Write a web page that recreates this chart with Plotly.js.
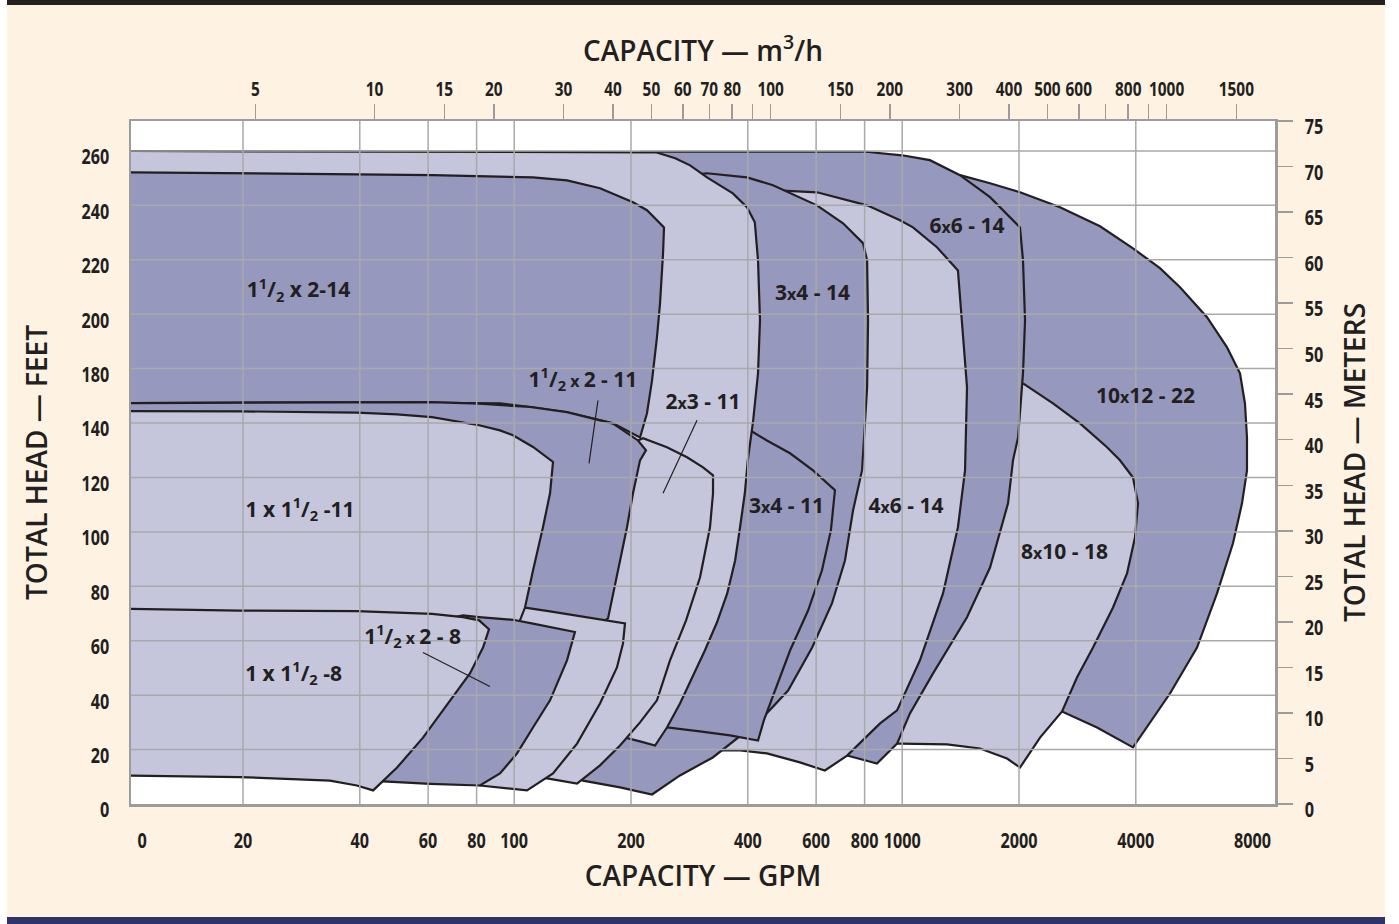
<!DOCTYPE html>
<html>
<head>
<meta charset="utf-8">
<script src="https://cdn.plot.ly/plotly-3.0.1.min.js"></script>
<style>
  html, body { margin:0; padding:0; background:#ffffff; width:1399px; height:924px; overflow:hidden; }
  #card { position:absolute; left:7px; top:0; width:1378px; height:924px; background:#FEF2E2; }
  #chart { position:absolute; left:0; top:0; width:1378px; height:924px; }
  #topbar { position:absolute; left:0; top:0; width:1378px; height:5px; background:#231F20; z-index:5; }
  #botbar { position:absolute; left:0; top:917px; width:1378px; height:7px; background:#2E3468; z-index:5; }
</style>
</head>
<body>
<div id="card"><div id="chart"></div><div id="topbar"></div><div id="botbar"></div></div>
<script>
// ---------- axis ticks ----------
const bottomTickGPM  = [11, 20, 40, 60, 80, 100, 200, 400, 600, 800, 1000, 2000, 4000, 8000];
const bottomTickText = ['0','20','40','60','80','100','200','400','600','800','1000','2000','4000','8000'];
const gridGPM        = [20, 40, 60, 80, 100, 200, 400, 600, 800, 1000, 2000, 4000];
const topTickM3h     = [5,10,15,20,30,40,50,60,70,80,100,150,200,300,400,500,600,800,1000,1500];
const topMinorM3h    = [90,700,900];
const headTickFt     = [0,20,40,60,80,100,120,140,160,180,200,220,240];
const headTickText   = ['0','20','40','60','80','100','120','140','180','200','220','240','260'];
const meterTicks     = [0,5,10,15,20,25,30,35,40,45,50,55,60,65,70,75];

// ---------- pump coverage regions (GPM, feet), back to front ----------
const p10x12_22_gpm = [1409,1684,2012,2551,3235,3934,4617,5200,6104,6875,7423,7646,7738,7738,7513,7121,6477,5752,4899,4275,3934,3178,2582,1787,877,877];
const p10x12_22_ft  = [231.1,228.1,224.8,219.3,212.3,204.2,196.9,189.9,178.9,167.8,158.3,147.2,134.7,122.6,110.5,95.8,77.4,57.5,40.6,28.1,20.8,28.1,34.0,36.5,36.5,232.2];

const p8x10_18_gpm = [2048,2447,2872,3372,3641,3934,4053,3981,3797,3494,3103,2821,2582,2266,2012,1863,1587,1305,987,930,930,1787];
const p8x10_18_ft  = [154.6,147.2,139.9,131.1,126.3,120.0,110.5,98.0,84.7,72.2,57.5,46.5,34.0,24.4,13.4,16.7,20.4,21.9,22.2,22.2,155.7,158.6];

const p6x6_14_gpm = [211,807,999,1179,1409,1684,2012,2048,2073,2048,1989,1930,1874,1684,1469,1201,1047,970,861,721,545,301];
const p6x6_14_ft  = [239.7,239.7,238.4,236.6,231.1,223.0,211.9,199.8,177.8,158.3,134.7,126.3,110.5,86.9,68.6,48.0,33.3,22.2,14.9,17.8,21.5,185.1];

const p4x6_14_gpm = [464.5,603,812,987,1066,1229,1392,1426,1469,1452,1392,1274,1111,970,877,721,632,545,448,382,325,284,339,360];
const p4x6_14_ft  = [225.6,224.8,220.0,214.5,211.9,204.6,196.1,177.8,153.1,122.6,101.7,77.4,52.8,34.4,29.6,17.8,12.3,15.3,18.6,19.7,19.7,21.5,185.1,221.9];

const p3x4_14_gpm = [284,314,398,464.5,603,704,792.5,812,816.5,812,788,747,712,659,586,508,430,366,325,267.5,226.6,187.4,150.4,131.2,301];
const p3x4_14_ft  = [231.1,231.8,230.3,227.4,220.0,213.4,206.1,199.8,177.8,153.1,122.6,107.9,89.5,73.7,57.5,41.7,30.7,23.0,17.1,10.5,3.5,6.1,8.6,16.0,185.1];

const p3x4_11_gpm = [382,410,448,514,589,671,655,621,572,514,470,440,425,360,301,224,301];
const p3x4_11_ft  = [139.2,136.9,133.6,128.9,122.6,115.3,100.6,85.8,71.1,56.4,41.7,30.7,23.3,25.2,26.7,28.9,130.0];

const p2x3_14_gpm = [9,232,260,284,314,366,398,417,425,430,425,413,400,393,382,371,354,333,310,287,267.5,247.6,230.7,211,193,166.4,131.2,9];
const p2x3_14_ft  = [240,239.5,237.3,234.7,230.3,224.4,219.3,213.8,199.8,177.8,158.3,141.0,126.3,114.2,101.7,89.5,77.4,66.7,56.4,46.5,36.9,28.1,21.5,23.0,24.4,38.1,74.8,74.8];

const p2x3_11_gpm = [187.4,208.5,214.8,247.6,278.9,306.7,325.4,325.4,319.6,301.3,277.3,252.1,233.3,211,187.4,166.4,145.2,131.2,118.6,103.5,131.2];
const p2x3_11_ft  = [131.8,133.6,134.4,131.1,127.4,123.7,120.8,114.2,101.7,83.3,67.5,52.8,38.1,30.0,21.5,14.2,7.5,8.6,9.7,16.0,111.6];

const p1h2_14_gpm = [9,19.65,39.3,61.4,81.2,99.3,111.8,136.8,166.4,202.4,219.9,243.3,241.9,237.6,233.3,226.6,219.9,211,179.8,136.8,111.8,91.9,39.3,9];
const p1h2_14_ft  = [232.2,231.9,231.4,231.1,230.8,230.7,230.3,229.2,226.3,221.1,218.2,211.9,202.4,184.0,171.5,155.7,143.6,134.7,139.9,143.9,145.8,147.2,147.6,147.3];

const p1h2_11_gpm = [9,39.3,61.4,81.2,109.8,136.8,179.8,208.5,218.6,211,202.4,195.3,185.2,174.5,156.8,91.9,9];
const p1h2_11_ft  = [147.3,147.7,147.7,147.1,145.9,144.0,139.8,133.6,130.0,126.3,114.2,101.7,85.8,68.2,63.8,63.8,63.8];

const p2x3_8_gpm = [91.9,106.6,123.7,143.4,193,190.7,184,166.4,145.2,125.9,107.9,81.6,76.9,76.9];
const p2x3_8_ft  = [73.0,72.2,70.8,69.3,66.4,59.0,50.2,36.9,22.2,11.2,5.0,6.8,8.6,60.1];

const p1x1h_11_gpm = [9,19.65,39.3,49.9,61.4,73.8,81.2,91.9,99.3,111.8,125.9,123.7,118.6,111.8,106.6,103.5,97.5,9];
const p1x1h_11_ft  = [144.4,144.3,143.8,143.2,142.2,140.4,139.2,137.3,135.5,131.2,125.7,114.2,101.7,85.8,72.2,67.5,60.1,60.1];

const p1h2_8_gpm = [64.4,73.8,81.2,99.3,111.8,127.4,143.4,136.8,123.7,111.8,101.7,91.9,81.6,60.7,45.9,42.5,50.8];
const p1h2_8_ft  = [67.5,69.3,68.7,67.7,66.3,64.7,63.2,52.8,38.1,28.1,18.6,11.2,6.8,7.4,8.3,8.6,56.4];

const p1x1h_8_gpm = [9,19.65,39.3,61.4,73.8,81.2,86.1,83.1,76.9,68.3,58.2,49.9,43.3,39.3,33.5,19.65,9];
const p1x1h_8_ft  = [71.8,71.1,70.9,69.9,68.7,67.5,64.2,57.5,48.0,38.1,24.4,13.4,5.0,6.8,8.6,9.9,10.5];

// ---------- labels ----------
const labelText = [
  '1<sup>1</sup>/<sub>2</sub> x 2-14',
  '1 x 1<sup>1</sup>/<sub>2</sub> -11',
  '1 x 1<sup>1</sup>/<sub>2</sub> -8',
  '1<sup>1</sup>/<sub>2</sub><span style="font-size:16px"> x </span>2 - 8',
  '1<sup>1</sup>/<sub>2</sub><span style="font-size:16px"> x </span>2 - 11',
  '2<span style="font-size:16px">x</span>3 - 11',
  '3<span style="font-size:16px">x</span>4 - 14',
  '6<span style="font-size:16px">x</span>6 - 14',
  '10<span style="font-size:16px">x</span>12 - 22',
  '3<span style="font-size:16px">x</span>4 - 11',
  '4<span style="font-size:16px">x</span>6 - 14',
  '8<span style="font-size:16px">x</span>10 - 18'
];
const labelGPM = [27.8, 28.05, 27.0, 54.7, 150.4, 306.7, 587.2, 1469, 4238, 503.3, 1023, 2620];
const labelFt  = [188.1, 107.5, 47.2, 60.8, 155.3, 147.2, 187.3, 211.6, 149.4, 109.0, 109.0, 91.9];

// leader lines from labels to their regions
const leaderGPM = [164.4, 155.9, null, 295.9, 241.9, null, 58.2, 86.6];
const leaderFt  = [148.3, 125.2, null, 141.0, 114.2, null, 55.7, 43.2];

// ---------- styles ----------
const DARK = '#9698BE', LIGHT = '#C5C6DC', INK = '#231F20', GRID = '#A9A9A9', FRAME = '#9C9C9C';
const FAM = "'Open Sans', 'Noto Sans', sans-serif";

function region(gx, fy, fill) {
  return { type:'scatter', mode:'lines', x:gx, y:fy, fill:'toself', fillcolor:fill,
           line:{color:INK, width:2.2}, hoverinfo:'skip', showlegend:false };
}

const traces = [
  region(p10x12_22_gpm, p10x12_22_ft, DARK),
  region(p8x10_18_gpm,  p8x10_18_ft,  LIGHT),
  region(p6x6_14_gpm,   p6x6_14_ft,   DARK),
  region(p4x6_14_gpm,   p4x6_14_ft,   LIGHT),
  region(p3x4_14_gpm,   p3x4_14_ft,   DARK),
  region(p3x4_11_gpm,   p3x4_11_ft,   DARK),
  region(p2x3_14_gpm,   p2x3_14_ft,   LIGHT),
  region(p2x3_11_gpm,   p2x3_11_ft,   LIGHT),
  region(p1h2_14_gpm,   p1h2_14_ft,   DARK),
  region(p1h2_11_gpm,   p1h2_11_ft,   DARK),
  region(p2x3_8_gpm,    p2x3_8_ft,    LIGHT),
  region(p1x1h_11_gpm,  p1x1h_11_ft,  LIGHT),
  region(p1h2_8_gpm,    p1h2_8_ft,    DARK),
  region(p1x1h_8_gpm,   p1x1h_8_ft,   LIGHT)
];

// grid lines drawn over the filled regions
const vgx = [], vgy = [];
gridGPM.forEach(g => { vgx.push(g, g, null); vgy.push(0, 260, null); });
const hgx = [], hgy = [];
headTickFt.filter(v => v > 0).forEach(v => { hgx.push(5, 20000, null); hgy.push(v, v, null); });
traces.push({ type:'scatter', mode:'lines', x:vgx, y:vgy, line:{color:GRID, width:1.5}, hoverinfo:'skip', showlegend:false });
traces.push({ type:'scatter', mode:'lines', x:hgx, y:hgy, line:{color:GRID, width:1.5}, hoverinfo:'skip', showlegend:false });

traces.push({ type:'scatter', mode:'lines', x:leaderGPM, y:leaderFt, line:{color:INK, width:1.2}, hoverinfo:'skip', showlegend:false });

traces.push({ type:'scatter', mode:'text', x:labelGPM, y:labelFt, text:labelText, textposition:'middle center',
  textfont:{family:FAM, size:21, color:INK, weight:700}, hoverinfo:'skip', showlegend:false, cliponaxis:false });

// secondary scales (m3/h on top, metres on the right)
traces.push({ type:'scatter', mode:'markers', x:[100], y:[100], xaxis:'x2', yaxis:'y', marker:{opacity:0}, hoverinfo:'skip', showlegend:false });
traces.push({ type:'scatter', mode:'markers', x:[100], y:[30], xaxis:'x', yaxis:'y2', marker:{opacity:0}, hoverinfo:'skip', showlegend:false });

const tickFont    = {family:FAM, size:21, color:INK, weight:700};
const topTickFont = {family:FAM, size:20, color:INK, weight:700};
const titleFont   = {family:FAM, size:28, color:INK, weight:600};

const layout = {
  width:1378, height:924,
  margin:{l:124, r:110, t:121, b:120, pad:0},
  paper_bgcolor:'#FEF2E2', plot_bgcolor:'#FFFFFF',
  showlegend:false,
  xaxis:{ type:'log', range:[1.01237, 3.96082], tickmode:'array', tickvals:bottomTickGPM, ticktext:bottomTickText,
          ticks:'', showgrid:false, zeroline:false, showline:true, linecolor:FRAME, linewidth:2.5,
          tickfont:tickFont, tickangle:0, ticklabelstandoff:16, automargin:false,
          title:{text:'CAPACITY — GPM', font:titleFont, standoff:14} },
  xaxis2:{ type:'log', overlaying:'x', side:'top', anchor:'y', range:[0.38485, 3.27374], tickmode:'array',
          tickvals:topTickM3h, ticktext:topTickM3h.map(String), ticks:'outside', ticklen:15, tickwidth:1.5, tickcolor:FRAME,
          minor:{tickmode:'array', tickvals:topMinorM3h, ticks:'outside', ticklen:15, tickwidth:1.5, tickcolor:FRAME, showgrid:false},
          showgrid:false, zeroline:false, showline:true, linecolor:FRAME, linewidth:2.5,
          tickfont:topTickFont, tickangle:0, ticklabelstandoff:0, automargin:false,
          title:{text:'CAPACITY — m<sup>3</sup>/h', font:titleFont, standoff:5} },
  yaxis:{ range:[0, 251], tickmode:'array', tickvals:headTickFt, ticktext:headTickText, ticks:'',
          showgrid:false, zeroline:false, showline:true, linecolor:FRAME, linewidth:2.5,
          tickfont:tickFont, ticklabelstandoff:15, ticklabelshift:6, automargin:false,
          title:{text:'TOTAL HEAD — FEET', font:titleFont, standoff:18} },
  yaxis2:{ overlaying:'y', side:'right', anchor:'x', range:[0, 75], tickmode:'array', tickvals:meterTicks,
          ticks:'outside', ticklen:15, tickwidth:1.5, tickcolor:FRAME,
          showgrid:false, zeroline:false, showline:true, linecolor:FRAME, linewidth:2.5,
          tickfont:tickFont, ticklabelstandoff:8, ticklabelshift:6, automargin:false,
          title:{text:'TOTAL HEAD — METERS', font:titleFont, standoff:18} }
};

// narrow the tick numerals (the printed chart uses a condensed face)
function condenseTicks(gd) {
  gd.querySelectorAll('g.xtick text, g.x2tick text, g.ytick text, g.y2tick text').forEach(t => {
    const w = t.getComputedTextLength();
    if (w > 0) {
      t.setAttribute('textLength', (w * 0.77).toFixed(1));
      t.setAttribute('lengthAdjust', 'spacingAndGlyphs');
    }
  });
}

Plotly.newPlot('chart', traces, layout, {staticPlot:true, displayModeBar:false}).then(condenseTicks);
</script>
</body>
</html>
